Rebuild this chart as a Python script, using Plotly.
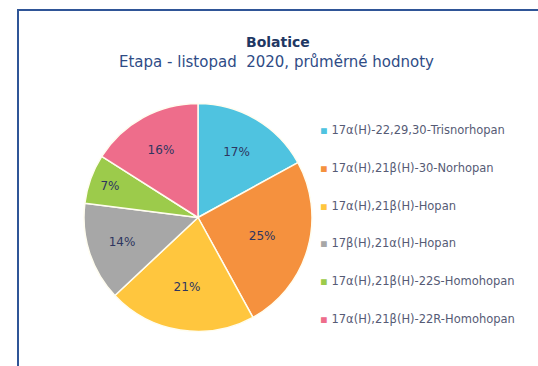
import plotly.graph_objects as go

# Hopane composition, average values
labels = [
    "17α(H)-22,29,30-Trisnorhopan",
    "17α(H),21β(H)-30-Norhopan",
    "17α(H),21β(H)-Hopan",
    "17β(H),21α(H)-Hopan",
    "17α(H),21β(H)-22S-Homohopan",
    "17α(H),21β(H)-22R-Homohopan",
]
values = [17, 25, 21, 14, 7, 16]
colors = ["#4FC3E0", "#F5913E", "#FFC63E", "#A7A7A7", "#9CCB4B", "#EE6D8B"]

W, H = 538, 366
FONT = "DejaVu Sans, Verdana, sans-serif"

fig = go.Figure(
    go.Pie(
        labels=labels,
        values=values,
        sort=False,
        direction="clockwise",
        rotation=0,
        marker=dict(colors=colors, line=dict(color="#FFFDF0", width=1.5)),
        texttemplate="%{value}%",
        textposition="inside",
        insidetextorientation="horizontal",
        textfont=dict(family=FONT, size=12, color="#2E3560"),
        domain=dict(x=[84 / W, 312 / W], y=[34 / H, 263 / H]),
        showlegend=False,
        hoverinfo="label+percent",
    )
)

annotations = [
    dict(text="<b>Bolatice</b>", x=278 / W, y=1 - 32 / H, xref="paper", yref="paper",
         showarrow=False, font=dict(family=FONT, size=14, color="#1F3864")),
    dict(text="Etapa - listopad  2020, průměrné hodnoty", x=276 / W, y=1 - 51 / H,
         xref="paper", yref="paper", showarrow=False,
         font=dict(family=FONT, size=15, color="#2F4C86")),
]

# Legend drawn as text rows to the right of the pie
legend_top = 130
legend_step = 37.8
for i, (lab, col) in enumerate(zip(labels, colors)):
    annotations.append(dict(
        text=f"<span style='color:{col}'>▪</span> {lab}",
        x=318 / W, y=1 - (legend_top + i * legend_step) / H,
        xref="paper", yref="paper", xanchor="left", yanchor="middle", showarrow=False,
        font=dict(family=FONT, size=11.5, color="#565B75"),
    ))

fig.update_layout(
    width=W, height=H,
    margin=dict(l=0, r=0, t=0, b=0),
    paper_bgcolor="white",
    plot_bgcolor="white",
    annotations=annotations,
    shapes=[dict(type="rect", xref="paper", yref="paper",
                 x0=18 / W, y0=-0.05, x1=1.05, y1=1 - 10 / H,
                 line=dict(color="#2F5597", width=2))],
)

fig.write_html("out.html")
